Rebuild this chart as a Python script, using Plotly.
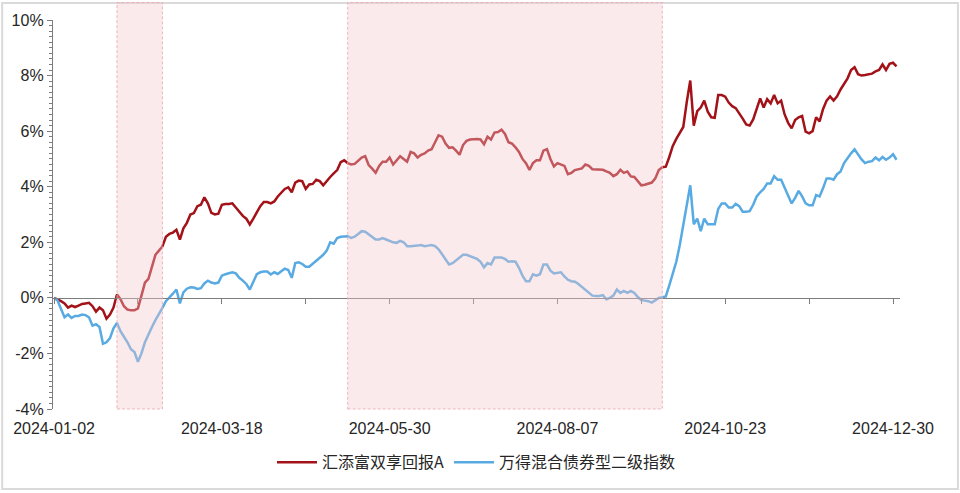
import pandas as pd
import plotly.graph_objects as go

# ---------------- data ----------------
market_holidays = ['2024-02-09', '2024-02-12', '2024-02-13', '2024-02-14', '2024-02-15',
                   '2024-02-16', '2024-04-04', '2024-04-05', '2024-05-01', '2024-05-02',
                   '2024-05-03', '2024-06-10', '2024-09-16', '2024-09-17', '2024-10-01',
                   '2024-10-02', '2024-10-03', '2024-10-04', '2024-10-07']
dates = [d.strftime('%Y-%m-%d') for d in pd.bdate_range('2024-01-02', '2024-12-31')
         if d.strftime('%Y-%m-%d') not in market_holidays]

fund_name = '汇添富双享回报A'
index_name = '万得混合债券型二级指数'

fund_ret = [
    0.00, -0.05, -0.12, -0.20, -0.35, -0.28, -0.33, -0.28, -0.22, -0.20,
    -0.18, -0.30, -0.50, -0.35, -0.45, -0.75, -0.60, -0.35, 0.12, -0.05,
    -0.30, -0.42, -0.45, -0.45, -0.38, 0.08, 0.55, 0.68, 1.10, 1.55,
    1.70, 1.85, 2.20, 2.30, 2.35, 2.45, 2.10, 2.50, 2.70, 3.00,
    3.05, 3.30, 3.35, 3.62, 3.40, 3.06, 3.00, 3.03, 3.35, 3.38,
    3.38, 3.40, 3.25, 3.10, 2.95, 2.85, 2.64, 2.85, 3.10, 3.30,
    3.45, 3.45, 3.40, 3.47, 3.65, 3.80, 3.92, 3.98, 3.80, 4.15,
    4.22, 4.20, 3.92, 4.08, 4.10, 4.25, 4.20, 4.05, 4.22, 4.35,
    4.48, 4.60, 4.88, 4.95, 4.85, 4.80, 4.82, 4.92, 5.05, 5.10,
    4.78, 4.65, 4.50, 4.75, 4.90, 4.90, 5.05, 4.80, 4.95, 5.10,
    5.00, 4.90, 5.25, 5.20, 5.05, 5.15, 5.20, 5.30, 5.35, 5.60,
    5.85, 5.80, 5.55, 5.40, 5.42, 5.30, 5.15, 5.50, 5.65, 5.70,
    5.72, 5.72, 5.70, 5.53, 5.80, 5.70, 5.95, 5.97, 6.05, 5.90,
    5.60, 5.55, 5.42, 5.25, 5.00, 4.85, 4.60, 4.85, 4.95, 4.95,
    5.30, 5.35, 5.00, 4.73, 4.85, 4.80, 4.75, 4.45, 4.50, 4.60,
    4.63, 4.66, 4.80, 4.75, 4.63, 4.63, 4.63, 4.61, 4.55, 4.50,
    4.38, 4.45, 4.61, 4.50, 4.55, 4.37, 4.35, 4.20, 4.05, 4.07,
    4.10, 4.15, 4.30, 4.60, 4.70, 4.72, 5.07, 5.47, 5.72, 5.95,
    6.15, 7.05, 7.82, 6.20, 6.72, 6.85, 7.10, 6.70, 6.50, 6.48,
    7.30, 7.30, 7.24, 7.03, 6.90, 6.83, 6.65, 6.45, 6.24, 6.20,
    6.42, 6.80, 7.18, 6.85, 7.15, 7.00, 7.30, 7.00, 7.10, 6.60,
    6.30, 6.10, 6.40, 6.50, 6.55, 5.98, 5.92, 6.00, 6.50, 6.35,
    6.80, 7.10, 7.25, 7.10, 7.25, 7.50, 7.70, 7.90, 8.20, 8.30,
    8.05, 8.00, 8.02, 8.05, 8.07, 8.15, 8.20, 8.40, 8.20, 8.42,
    8.46, 8.33,
]

index_ret = [
    0.00, -0.10, -0.40, -0.70, -0.60, -0.72, -0.65, -0.65, -0.60, -0.62,
    -0.70, -1.00, -0.95, -1.05, -1.65, -1.60, -1.45, -1.10, -0.90, -1.20,
    -1.40, -1.60, -1.85, -1.95, -2.30, -2.00, -1.60, -1.30, -1.05, -0.80,
    -0.55, -0.36, -0.12, 0.00, 0.15, 0.30, -0.20, 0.20, 0.33, 0.38,
    0.37, 0.32, 0.35, 0.52, 0.62, 0.55, 0.52, 0.55, 0.80, 0.85,
    0.88, 0.92, 0.88, 0.72, 0.62, 0.50, 0.30, 0.55, 0.85, 0.92,
    0.95, 0.95, 0.84, 0.92, 0.86, 0.96, 1.05, 1.00, 0.72, 1.25,
    1.28, 1.22, 1.12, 1.12, 1.22, 1.32, 1.42, 1.55, 1.70, 2.00,
    1.95, 2.15, 2.20, 2.22, 2.22, 2.16, 2.20, 2.30, 2.40, 2.38,
    2.28, 2.20, 2.10, 2.10, 2.15, 2.10, 2.05, 2.00, 1.98, 2.05,
    2.00, 1.86, 1.86, 1.86, 1.88, 1.90, 1.86, 1.88, 1.90, 1.86,
    1.75, 1.57, 1.40, 1.20, 1.25, 1.35, 1.45, 1.55, 1.55, 1.50,
    1.45, 1.40, 1.30, 1.10, 1.25, 1.20, 1.45, 1.45, 1.45, 1.40,
    1.30, 1.32, 1.30, 1.08, 0.80, 0.60, 0.60, 0.85, 0.80, 0.85,
    1.20, 1.20, 0.98, 0.88, 0.90, 0.92, 0.77, 0.65, 0.60, 0.58,
    0.50, 0.40, 0.30, 0.20, 0.08, 0.07, 0.07, 0.10, -0.05, 0.00,
    0.08, 0.30, 0.18, 0.25, 0.18, 0.25, 0.18, 0.03, -0.08, -0.10,
    -0.12, -0.17, -0.10, 0.00, 0.02, 0.05, 0.45, 0.85, 1.30, 1.90,
    2.60, 3.40, 4.05, 2.65, 2.85, 2.40, 2.85, 2.65, 2.65, 2.65,
    3.20, 3.40, 3.40, 3.25, 3.25, 3.38, 3.30, 3.10, 3.10, 3.12,
    3.35, 3.65, 3.80, 3.92, 4.12, 4.12, 4.38, 4.25, 4.25, 3.95,
    3.65, 3.40, 3.60, 3.85, 3.65, 3.40, 3.33, 3.33, 3.70, 3.65,
    3.95, 4.30, 4.30, 4.25, 4.45, 4.55, 4.85, 5.05, 5.20, 5.35,
    5.15, 4.98, 4.85, 4.90, 4.92, 5.05, 4.95, 5.07, 4.97, 5.05,
    5.17, 4.97,
]

label_dates = ['2024-01-02', '2024-03-18', '2024-05-30', '2024-08-07', '2024-10-23', '2024-12-30']
tick_dates = ['2024-01-02', '2024-02-05', '2024-03-18', '2024-04-23', '2024-05-30', '2024-07-04',
              '2024-08-07', '2024-09-10', '2024-10-23', '2024-11-26', '2024-12-30']
shade_starts = ['2024-01-26', '2024-05-14']
shade_ends = ['2024-02-22', '2024-09-20']
y_ticks = [-4, -2, 0, 2, 4, 6, 8, 10]
y_labels = [f'{v}%' for v in y_ticks]

# ---------------- styling ----------------
RED = 'rgb(163,18,24)'
BLUE = 'rgb(88,170,226)'
AXIS = 'rgb(125,125,125)'
TEXT = 'rgb(38,38,38)'
FONT = 'Liberation Sans, Arial, Noto Sans CJK SC, sans-serif'
ymin, ymax = y_ticks[0], y_ticks[-1]

fig = go.Figure()
fig.add_trace(go.Scatter(x=dates, y=fund_ret, mode='lines', name=fund_name,
                         line=dict(color=RED, width=2.5)))
fig.add_trace(go.Scatter(x=dates, y=index_ret, mode='lines', name=index_name,
                         line=dict(color=BLUE, width=2.5)))
# helper trace so the zero-line axis (x2) is drawn
fig.add_trace(go.Scatter(x=dates, y=index_ret, mode='lines', xaxis='x2', showlegend=False,
                         hoverinfo='skip', opacity=0, line=dict(width=0, color=BLUE)))

xrange = [-0.3, 242]
fig.update_layout(
    width=960, height=493,
    margin=dict(l=52, r=60, t=18, b=84),
    paper_bgcolor='white', plot_bgcolor='white',
    font=dict(family=FONT, size=16, color=TEXT),
    showlegend=True,
    legend=dict(orientation='h', x=0.5, xanchor='center', y=-0.137, yanchor='middle',
                font=dict(family='Noto Sans CJK SC, sans-serif', size=16, color=TEXT),
                itemwidth=40, bgcolor='rgba(0,0,0,0)'),
    xaxis=dict(type='category', categoryorder='array', categoryarray=dates, range=xrange,
               tickmode='array', tickvals=label_dates, ticktext=label_dates,
               showline=False, showgrid=False, zeroline=False,
               ticks='outside', ticklen=5, tickcolor='rgba(0,0,0,0)',
               tickfont=dict(size=16, color=TEXT)),
    xaxis2=dict(type='category', categoryorder='array', categoryarray=dates, range=xrange,
                overlaying='x', anchor='free', position=(0 - ymin) / (ymax - ymin), side='bottom',
                tickmode='array', tickvals=tick_dates, showticklabels=False,
                showline=True, linecolor=AXIS, linewidth=1.3,
                ticks='outside', ticklen=5, tickcolor=AXIS, tickwidth=1.3,
                showgrid=False, zeroline=False),
    yaxis=dict(range=[ymin, ymax], tickmode='array', tickvals=y_ticks, ticktext=y_labels,
               showline=True, linecolor=AXIS, linewidth=1.3,
               ticks='outside', ticklen=5, tickcolor=AXIS, tickwidth=1.3,
               minor=dict(tickmode='linear', tick0=0, dtick=0.2, ticks='outside', ticklen=3,
                          tickcolor=AXIS, tickwidth=1, showgrid=False),
               showgrid=False, zeroline=False, tickfont=dict(size=16, color=TEXT)),
)

for s, e in zip(shade_starts, shade_ends):
    fig.add_shape(type='rect', xref='x', yref='paper',
                  x0=dates.index(s), x1=dates.index(e), y0=0, y1=1.045,
                  fillcolor='rgba(244,200,205,0.38)',
                  line=dict(color='rgba(236,170,178,0.85)', width=1, dash='3px,2px'),
                  layer='above')

# light frame around the whole picture
fig.add_shape(type='rect', xref='paper', yref='paper',
              x0=-0.060, x1=1.0684, y0=-0.2058, y1=1.0435,
              line=dict(color='rgb(218,218,218)', width=2), fillcolor='rgba(0,0,0,0)',
              layer='below')

fig.write_html('out.html', config={'displayModeBar': False},
               post_script="document.body.style.margin='0';")
